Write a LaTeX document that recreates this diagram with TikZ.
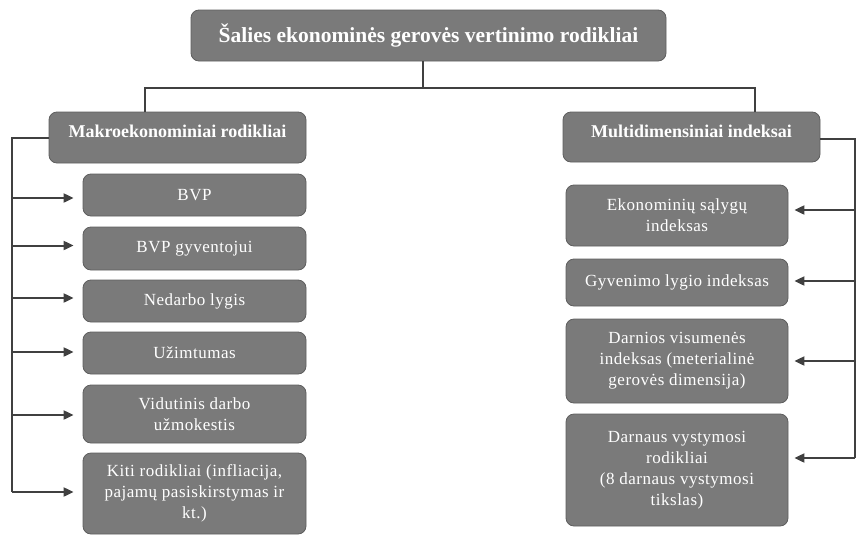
\documentclass[tikz,border=0pt]{standalone}
\usepackage{fontspec}
\setmainfont{Liberation Serif}
\newfontfamily\spacedserif[LetterSpace=3]{Liberation Serif}
\usetikzlibrary{arrows.meta,calc}
\definecolor{boxfill}{HTML}{7A7A7A}
\definecolor{boxline}{HTML}{5E5E5E}
\definecolor{conn}{HTML}{404040}
\tikzset{
  gbox/.style={draw=boxline, line width=0.8pt, fill=boxfill, rounded corners=8pt,
    text=white, align=center, inner sep=0pt, font=\spacedserif\fontsize{17}{21}\selectfont},
  lbox/.style={gbox, minimum width=223pt},
  rbox/.style={gbox, minimum width=222pt},
  hbox/.style={gbox, minimum width=257pt, minimum height=51pt,
    font=\normalfont\bfseries\fontsize{18}{21}\selectfont, text height=13pt, text depth=13pt},
  line/.style={draw=conn, line width=2pt},
  arr/.style={line, -{Triangle[length=10pt,width=9pt]}},
}
\begin{document}
\begin{tikzpicture}[x=1pt,y=-1pt]
\useasboundingbox (0,0) rectangle (857,536);
\node[gbox, minimum width=475pt, minimum height=51pt,
  font=\normalfont\bfseries\fontsize{21.5}{24}\selectfont] (top) at (428.5,35.5)
  {Šalies ekonominės gerovės vertinimo rodikliai};
\node[hbox] (makro) at (177.5,137.5) {Makroekonominiai rodikliai};
\node[hbox, minimum height=50pt] (multi) at (691.5,137) {Multidimensiniai indeksai};

\node[lbox, minimum height=42pt] (bvp) at (194.5,195) {BVP};
\node[lbox, minimum height=43pt] (bvpg) at (194.5,248.5) {BVP gyventojui};
\node[lbox, minimum height=42pt] (ned) at (194.5,301) {Nedarbo lygis};
\node[lbox, minimum height=42pt] (uzim) at (194.5,353) {Užimtumas};
\node[lbox, minimum height=58pt] (vid) at (194.5,414) {Vidutinis darbo\\užmokestis};
\node[lbox, minimum height=81pt] (kiti) at (194.5,493.5) {Kiti rodikliai (infliacija,\\pajamų pasiskirstymas ir\\kt.)};

\node[rbox, minimum height=61pt] (ekon) at (677,215.5) {Ekonominių sąlygų\\indeksas};
\node[rbox, minimum height=47pt] (gyv) at (677,282.5) {Gyvenimo lygio indeksas};
\node[rbox, minimum height=84pt] (darn) at (677,361) {Darnios visumenės\\indeksas (meterialinė\\gerovės dimensija)};
\node[rbox, minimum height=112pt] (darnaus) at (677,470) {Darnaus vystymosi\\rodikliai\\(8 darnaus vystymosi\\tikslas)};

% top bus
\coordinate (busL) at (145,88);
\coordinate (busR) at (755,88);
\draw[line] ([xshift=-6pt]top.south) -- ([xshift=-6pt]top.south |- busL);
\draw[line] (busL |- makro.north) -- (busL) -- (busR) -- (busR |- multi.north);

% left trunk
\coordinate (trL) at (12,138);
\coordinate (trLend) at (12,492);
\draw[line] (makro.west |- trL) -- (trL) -- (trLend);
\foreach \n/\dy in {bvp/3, bvpg/-3, ned/-3, uzim/-1, vid/1, kiti/-1.5}
  \draw[arr, shorten >=9pt] ($(\n.west -| trL)+(0,\dy)$) -- ($(\n.west)+(0,\dy)$);

% right trunk
\coordinate (trR) at (855,139);
\coordinate (trRend) at (855,458);
\draw[line] (multi.east |- trR) -- (trR) -- (trRend);
\foreach \n/\dy in {ekon/-5.5, gyv/-1.5, darn/0, darnaus/-12}
  \draw[arr, shorten >=6pt] ($(\n.east -| trR)+(0,\dy)$) -- ($(\n.east)+(0,\dy)$);
\end{tikzpicture}
\end{document}
